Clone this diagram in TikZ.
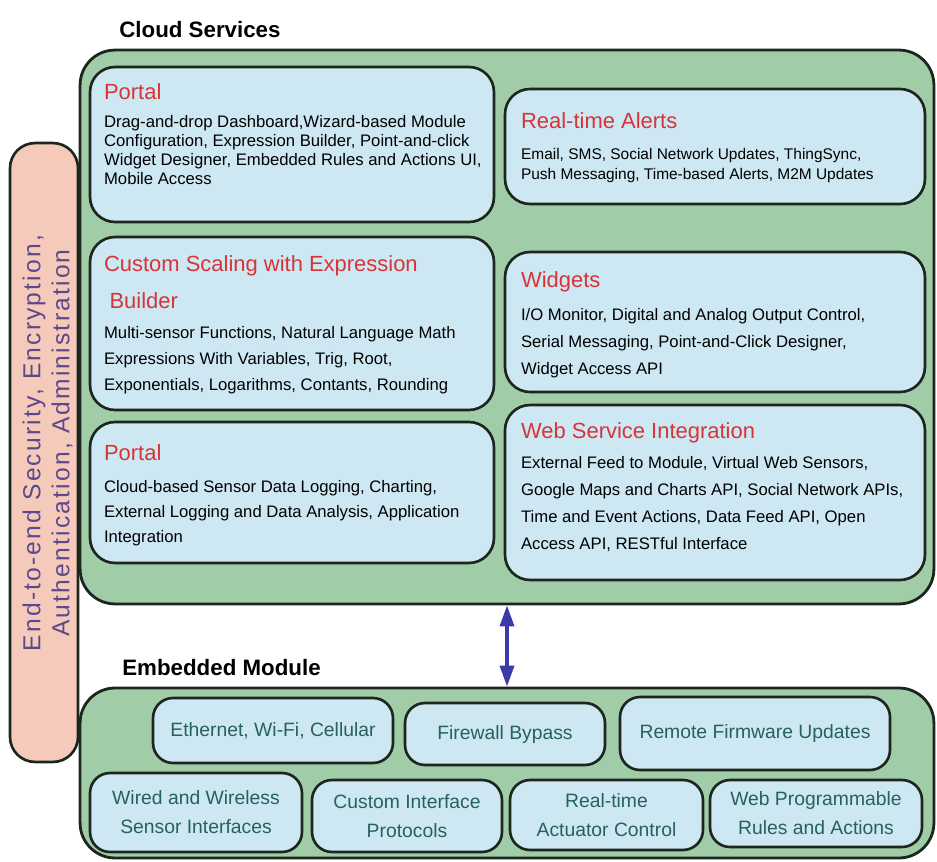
\documentclass[tikz,border=0pt]{standalone}
\usepackage{fontspec}
\setmainfont{Liberation Sans}
\newfontfamily\spacedsans[LetterSpace=9]{Liberation Sans}
\usepackage{xcolor}
\usetikzlibrary{positioning}
\usetikzlibrary{calc}
\usetikzlibrary{arrows.meta}

\definecolor{cloudgreen}{RGB}{160,204,168}
\definecolor{panelblue}{RGB}{206,232,243}
\definecolor{secpink}{RGB}{246,202,186}
\definecolor{headred}{RGB}{214,52,56}
\definecolor{modteal}{RGB}{38,98,88}
\definecolor{secpurple}{RGB}{92,72,140}
\definecolor{linkblue}{RGB}{58,58,170}
\definecolor{edge}{RGB}{28,38,30}

\newcommand{\panelhead}[1]{{\color{headred}\fontsize{12.5}{15}\selectfont #1}}

\begin{document}
\begin{tikzpicture}
    [%%%%%%%%%%%%%%%%%%%%%%%%%%%%%%
        x=0.02cm, y=-0.02cm,
        layer/.style={rectangle, draw=edge, line width=1.6pt, fill=cloudgreen, rounded corners=0.7cm},
        panel/.style={rectangle, draw=edge, line width=1.5pt, fill=panelblue, rounded corners=0.5cm},
        unit/.style={panel, rounded corners=0.4cm, text=modteal, align=center, font=\fontsize{11}{16.5}\selectfont},
        blurb/.style={anchor=north west, align=left, inner sep=0pt, font=\fontsize{9.5}{#1}\selectfont},
        blurb/.default=11,
        title/.style={anchor=west, inner sep=0pt, font=\bfseries\fontsize{12.7}{15}\selectfont}
    ]%%%%%%%%%%%%%%%%%%%%%%%%%%%%%%
\useasboundingbox (0,0) rectangle (937,862);

% security bar on the left
\node[rectangle, draw=edge, line width=1.5pt, fill=secpink, rounded corners=0.5cm,
      minimum width=1.36cm, minimum height=12.38cm] (security) at (44,452.5) {};
\node[rotate=90, align=center, text=secpurple, inner sep=0pt,
      font=\spacedsans\fontsize{14}{16.5}\selectfont] (security-txt) at (47.5,443)
      {End-to-end Security, Encryption,\\Authentication, Administration};

% cloud services
\node[title] (cloudtitle) at (119,30) {Cloud Services};
\node[layer, minimum width=17.08cm, minimum height=11.08cm] (cloud) at (507,327) {};

\node[panel, minimum width=8.08cm, minimum height=3.1cm] (portalA) at (292,144.5) {};
\node[panel, minimum width=8.4cm, minimum height=2.3cm] (alerts) at (715,146.5) {};
\node[panel, minimum width=8.08cm, minimum height=3.46cm] (scaling) at (292,323.5) {};
\node[panel, minimum width=8.4cm, minimum height=2.8cm] (widgets) at (715,322) {};
\node[panel, minimum width=8.08cm, minimum height=2.82cm] (portalB) at (292,492.5) {};
\node[panel, minimum width=8.4cm, minimum height=3.5cm] (websvc) at (715,492.5) {};

\node[blurb=10.8] (portalA-txt) at ([shift={(0.3cm,-0.36cm)}]portalA.north west)
    {\panelhead{Portal}\\[5pt]
     Drag-and-drop Dashboard,Wizard-based Module\\
     Configuration, Expression Builder, Point-and-click\\
     Widget Designer, Embedded Rules and Actions UI,\\
     Mobile Access};
\node[blurb, font=\fontsize{8.8}{11.4}\selectfont] (alerts-txt) at ([shift={(0.34cm,-0.5cm)}]alerts.north west)
    {\panelhead{Real-time Alerts}\\[6pt]
     Email, SMS, Social Network Updates, ThingSync,\\
     Push Messaging, Time-based Alerts, M2M Updates};
\node[blurb=14.8] (scaling-txt) at ([shift={(0.3cm,-0.4cm)}]scaling.north west)
    {\panelhead{Custom Scaling with Expression}\\[6pt]
     \panelhead{\hspace*{0.25em}Builder}\\[2pt]
     Multi-sensor Functions, Natural Language Math\\
     Expressions With Variables, Trig, Root,\\
     Exponentials, Logarithms, Contants, Rounding};
\node[blurb=15.3] (widgets-txt) at ([shift={(0.34cm,-0.42cm)}]widgets.north west)
    {\panelhead{Widgets}\\[3.5pt]
     I/O Monitor, Digital and Analog Output Control,\\
     Serial Messaging, Point-and-Click Designer,\\
     Widget Access API};
\node[blurb=14.2] (portalB-txt) at ([shift={(0.3cm,-0.48cm)}]portalB.north west)
    {\panelhead{Portal}\\[4pt]
     Cloud-based Sensor Data Logging, Charting,\\
     External Logging and Data Analysis, Application\\
     Integration};
\node[blurb=15.3] (websvc-txt) at ([shift={(0.34cm,-0.38cm)}]websvc.north west)
    {\panelhead{Web Service Integration}\\[1.7pt]
     External Feed to Module, Virtual Web Sensors,\\
     Google Maps and Charts API, Social Network APIs,\\
     Time and Event Actions, Data Feed API, Open\\
     Access API, RESTful Interface};

% embedded module
\node[title] (embtitle) at (122,668) {Embedded Module};
\node[layer, minimum width=17.08cm, minimum height=3.4cm] (embedded) at (507,773) {};

\node[unit, minimum width=4.8cm, minimum height=1.3cm] (ether) at (273,730.5) {Ethernet, Wi-Fi, Cellular};
\node[unit, minimum width=4.0cm, minimum height=1.24cm] (firewall) at (505,734) {Firewall Bypass};
\node[unit, minimum width=5.4cm, minimum height=1.46cm] (firmware) at (755,733.5) {Remote Firmware Updates};
\node[unit, minimum width=4.24cm, minimum height=1.58cm] (sensors) at (196,812.5) {Wired and Wireless\\Sensor Interfaces};
\node[unit, minimum width=3.8cm, minimum height=1.44cm] (protocols) at (407,816) {Custom Interface\\Protocols};
\node[unit, minimum width=3.86cm, minimum height=1.4cm] (actuator) at (606.5,815) {Real-time\\Actuator Control};
\node[unit, minimum width=4.24cm, minimum height=1.34cm] (rules) at (816,813.5) {Web Programmable\\Rules and Actions};

\draw [linkblue, line width=2pt, {Triangle[width=8pt,length=12pt]}-{Triangle[width=8pt,length=12pt]}] (cloud.south) -- (embedded.north);

\end{tikzpicture}
\end{document}
